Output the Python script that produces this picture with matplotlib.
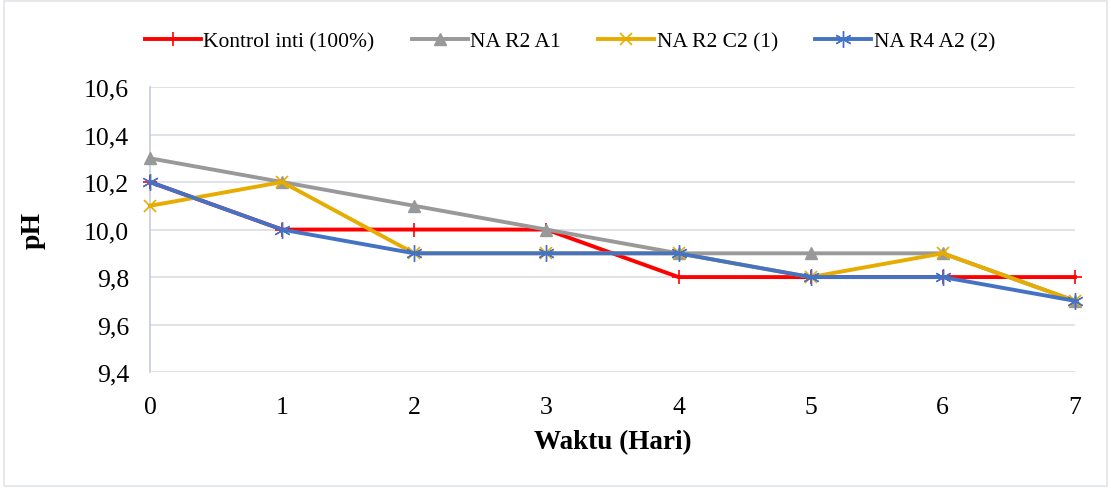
import matplotlib.pyplot as plt
from matplotlib.patches import Rectangle
from matplotlib.ticker import FuncFormatter

plt.rcParams['font.family'] = ['Liberation Serif', 'DejaVu Serif']

days = [0, 1, 2, 3, 4, 5, 6, 7]
kontrol = [10.2, 10.0, 10.0, 10.0, 9.8, 9.8, 9.8, 9.8]
na_r2_a1 = [10.3, 10.2, 10.1, 10.0, 9.9, 9.9, 9.9, 9.7]
na_r2_c2 = [10.1, 10.2, 9.9, 9.9, 9.9, 9.8, 9.9, 9.7]
na_r4_a2 = [10.2, 10.0, 9.9, 9.9, 9.9, 9.8, 9.8, 9.7]
labels = ['Kontrol inti (100%)', 'NA R2 A1', 'NA R2 C2 (1)', 'NA R4 A2 (2)']
yticks = [9.4, 9.6, 9.8, 10.0, 10.2, 10.4, 10.6]

fig = plt.figure(figsize=(11.11, 4.89), dpi=100)
ax = fig.add_axes([0.135, 0.237, 0.8325, 0.583])

lw = 2.8
ax.plot(days, kontrol, color='#FF0000', lw=lw, marker='+', ms=10, mew=1.2, label=labels[0], zorder=3, clip_on=False)
ax.plot(days, na_r2_a1, color='#999999', lw=lw, marker='^', ms=9, label=labels[1], zorder=3, clip_on=False)
ax.plot(days, na_r2_c2, color='#E6AC00', lw=lw, marker='x', ms=9, mew=1.2, label=labels[2], zorder=3, clip_on=False)
ax.plot(days, na_r4_a2, color='#4472C4', lw=lw, marker=(6, 2, 0), ms=12, mew=1.0, label=labels[3], zorder=3, clip_on=False)

ax.set_xlim(0, 7)
ax.set_ylim(9.4, 10.6)
ax.set_xticks(days)
ax.set_yticks(yticks)
ax.yaxis.set_major_formatter(FuncFormatter(lambda v, p: ('%.1f' % v).replace('.', ',')))
ax.grid(axis='y', color='#D9DDE4', lw=1.2)
ax.set_axisbelow(True)
for s in ['top', 'right', 'bottom']:
    ax.spines[s].set_visible(False)
ax.spines['left'].set_color('#C5CCDA')
ax.spines['left'].set_linewidth(1.2)
ax.tick_params(length=0, labelsize=18.5)
ax.tick_params(axis='x', pad=17)
ax.tick_params(axis='y', pad=15)

ax.set_xlabel('Waktu (Hari)', fontsize=19.5, fontweight='bold', labelpad=8)
ax.set_ylabel('pH', fontsize=20, fontweight='bold', labelpad=28)

fig.legend(loc='center', bbox_to_anchor=(0.513, 0.914), ncol=4, frameon=False,
           fontsize=15.5, handlelength=2.6, columnspacing=1.75, handletextpad=0.1)

fig.patches.append(Rectangle((0.004, 0.004), 0.992, 0.992, transform=fig.transFigure,
                             fill=False, edgecolor='#E2E4E8', lw=1.2))

plt.savefig('out.png', dpi=100)
